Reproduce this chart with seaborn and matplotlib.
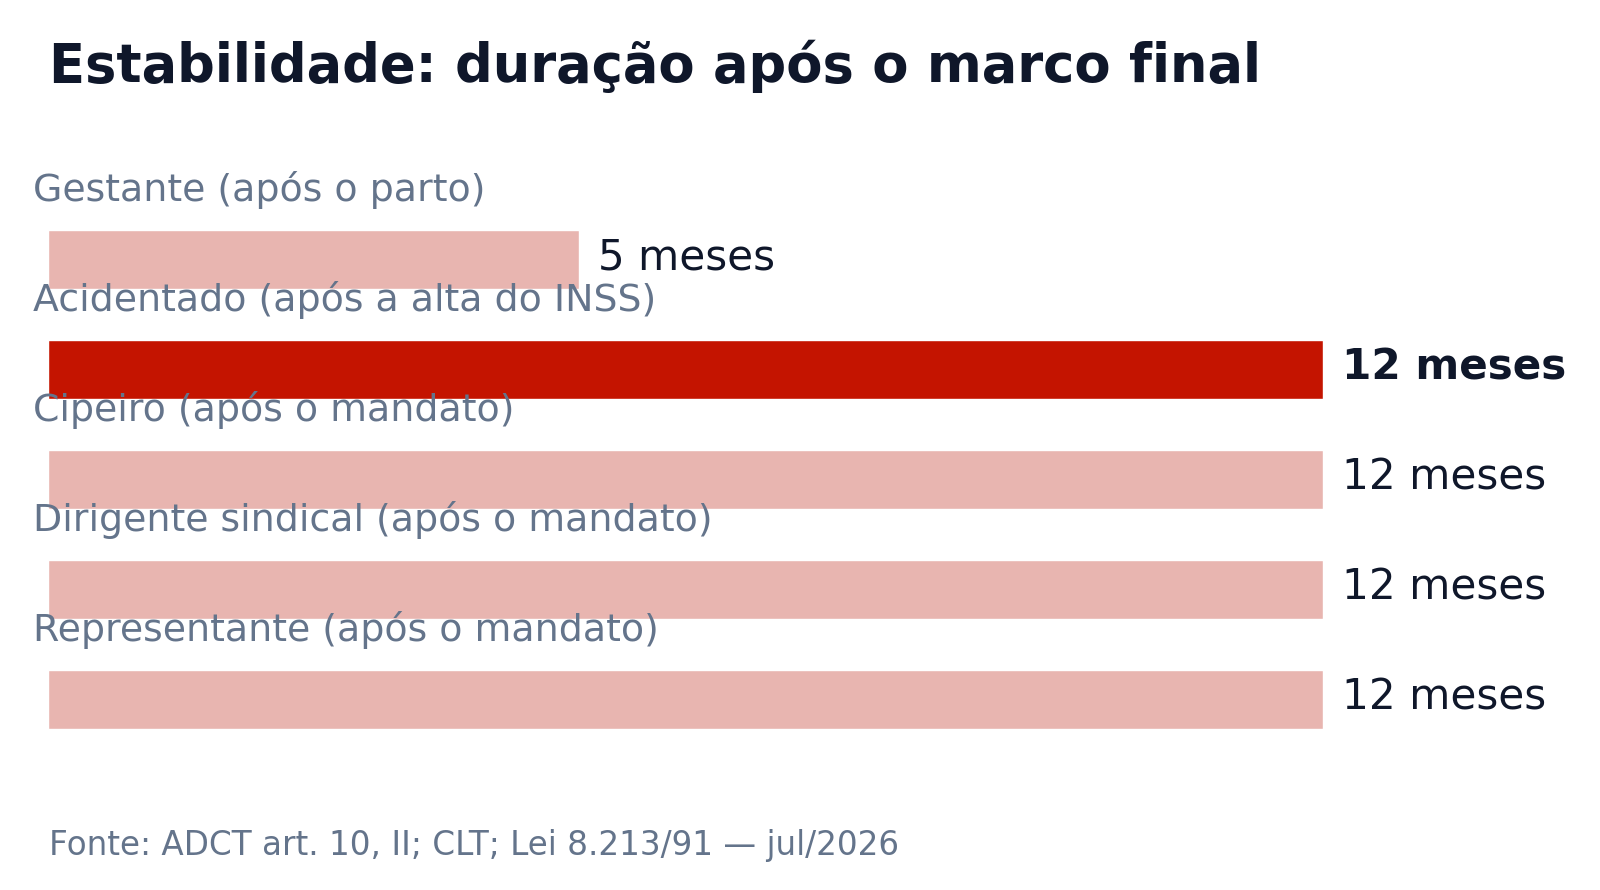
import pandas as pd
import matplotlib
matplotlib.use("Agg")
import matplotlib.pyplot as plt
import seaborn as sns

categories = ['Gestante (após o parto)', 'Acidentado (após a alta do INSS)',
              'Cipeiro (após o mandato)', 'Dirigente sindical (após o mandato)',
              'Representante (após o mandato)']
months = [5, 12, 12, 12, 12]
highlight = 'Acidentado (após a alta do INSS)'

title = 'Estabilidade: duração após o marco final'
source = 'Fonte: ADCT art. 10, II; CLT; Lei 8.213/91 — jul/2026'

RED = '#c41400'
PINK = '#e8b5b0'
DARK = '#0f172a'
GRAY = '#64748b'

sns.set_theme(style='white')
plt.rcParams['font.family'] = ['DejaVu Sans']

df = pd.DataFrame({'cat': categories, 'val': months})
palette = {c: (RED if c == highlight else PINK) for c in categories}

fig = plt.figure(figsize=(16, 8.9), dpi=100)
ax = fig.add_axes([0.03, 0.1399, 0.797, 0.6921])

sns.barplot(data=df, x='val', y='cat', hue='cat', palette=palette, legend=False,
            width=0.53, saturation=1, ax=ax, orient='h')

ax.set_xlim(0, 12)
ax.set_ylim(4.6, -1.0)
ax.axis('off')

for i, (cat, val) in enumerate(zip(categories, months)):
    ax.text(-0.14, i - 0.63, cat, fontsize=27.3, color=GRAY, ha='left', va='center')
    bold = cat == highlight
    ax.annotate(f'{val} meses', xy=(val, i), xytext=(13.7, 1.4), textcoords='offset points',
                fontsize=30.3, color=DARK, ha='left', va='center',
                fontweight='bold' if bold else 'normal', annotation_clip=False)

fig.text(49 / 1600, 1 - 66 / 890, title, fontsize=38, fontweight='bold', color=DARK,
         ha='left', va='center')
fig.text(49 / 1600, 1 - 846 / 890, source, fontsize=23.5, color=GRAY, ha='left', va='center')

fig.savefig('out.png', dpi=100, facecolor='white')
